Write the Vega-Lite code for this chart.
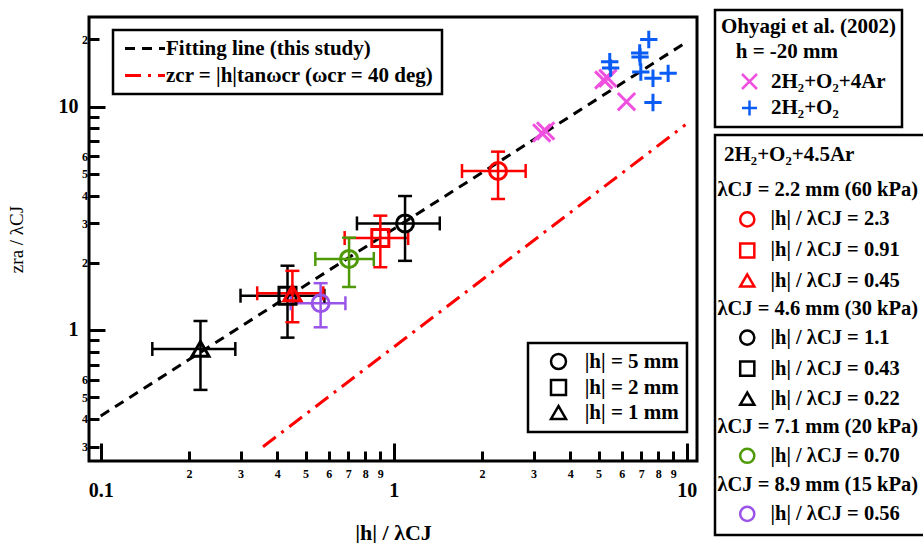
{
  "$schema": "https://vega.github.io/schema/vega-lite/v6.json",
  "width": 608,
  "height": 444,
  "autosize": {"type": "none"},
  "padding": {"left": 89, "top": 17, "right": 226, "bottom": 82},
  "background": "white",
  "config": {
    "font": "Liberation Serif",
    "view": {"stroke": "black", "strokeWidth": 3},
    "legend": {"strokeColor": "black", "strokeWidth": 2.5, "fillColor": "white", "labelFont": "Liberation Serif", "labelFontSize": 21, "labelFontWeight": "bold", "labelColor": "black", "titleFont": "Liberation Serif", "titleFontSize": 21, "titleFontWeight": "bold", "titleColor": "black", "labelLimit": 400, "titleLimit": 400},
    "axis": {"grid": false, "domain": false, "tickColor": "black", "tickWidth": 3, "labelFont": "Liberation Serif", "labelFontWeight": "bold", "labelColor": "black", "labelFlush": false, "labelOverlap": false, "labelBound": false, "titleFont": "Liberation Serif", "titleColor": "black"}
  },
  "datasets": {
    "lines": [
      {"l": "Fitting line (this study)", "x": 0.1, "y": 0.412},
      {"l": "Fitting line (this study)", "x": 10, "y": 19.5},
      {"l": "zcr = |h|tanωcr (ωcr = 40 deg)", "x": 0.358, "y": 0.3},
      {"l": "zcr = |h|tanωcr (ωcr = 40 deg)", "x": 9.9, "y": 8.3}
    ],
    "pts": [
      {"s": "|h| / λCJ = 1.1", "h": "|h| = 5 mm", "x": 1.093, "xlo": 0.749, "xhi": 1.436, "y": 3.0, "ylo": 2.04, "yhi": 3.98},
      {"s": "|h| / λCJ = 0.43", "h": "|h| = 2 mm", "x": 0.434, "xlo": 0.3, "xhi": 0.58, "y": 1.424, "ylo": 0.924, "yhi": 1.94},
      {"s": "|h| / λCJ = 0.22", "h": "|h| = 1 mm", "x": 0.219, "xlo": 0.15, "xhi": 0.288, "y": 0.822, "ylo": 0.539, "yhi": 1.097},
      {"s": "|h| / λCJ = 0.70", "h": "|h| = 5 mm", "x": 0.704, "xlo": 0.54, "xhi": 0.855, "y": 2.08, "ylo": 1.558, "yhi": 2.59},
      {"s": "|h| / λCJ = 0.56", "h": "|h| = 5 mm", "x": 0.563, "xlo": 0.445, "xhi": 0.684, "y": 1.317, "ylo": 1.028, "yhi": 1.62},
      {"s": "|h| / λCJ = 2.3", "h": "|h| = 5 mm", "x": 2.27, "xlo": 1.71, "xhi": 2.82, "y": 5.15, "ylo": 3.86, "yhi": 6.29},
      {"s": "|h| / λCJ = 0.91", "h": "|h| = 2 mm", "x": 0.9, "xlo": 0.68, "xhi": 1.12, "y": 2.58, "ylo": 1.91, "yhi": 3.25},
      {"s": "|h| / λCJ = 0.45", "h": "|h| = 1 mm", "x": 0.451, "xlo": 0.342, "xhi": 0.575, "y": 1.46, "ylo": 1.083, "yhi": 1.84}
    ],
    "ohy": [
      {"m": "2H₂+O₂+4Ar", "x": 3.2, "y": 7.63},
      {"m": "2H₂+O₂+4Ar", "x": 3.3, "y": 7.79},
      {"m": "2H₂+O₂+4Ar", "x": 5.21, "y": 13.17},
      {"m": "2H₂+O₂+4Ar", "x": 5.38, "y": 13.41},
      {"m": "2H₂+O₂+4Ar", "x": 6.23, "y": 10.53},
      {"m": "2H₂+O₂", "x": 5.46, "y": 15.9},
      {"m": "2H₂+O₂", "x": 5.5, "y": 14.9},
      {"m": "2H₂+O₂", "x": 7.42, "y": 20.0},
      {"m": "2H₂+O₂", "x": 6.91, "y": 17.4},
      {"m": "2H₂+O₂", "x": 6.93, "y": 16.7},
      {"m": "2H₂+O₂", "x": 6.97, "y": 14.3},
      {"m": "2H₂+O₂", "x": 7.67, "y": 13.41},
      {"m": "2H₂+O₂", "x": 8.64, "y": 14.11},
      {"m": "2H₂+O₂", "x": 7.67, "y": 10.44}
    ]
  },
  "layer": [
    {
      "data": {"name": "lines"},
      "mark": {"type": "line", "strokeWidth": 3},
      "encoding": {
        "x": {"field": "x", "type": "quantitative", "title": "|h| / λCJ", "scale": {"type": "log", "domain": [0.0912, 10.84], "nice": false},
          "axis": {
            "orient": "bottom", "values": [0.1, 1, 10],
            "labelExpr": "datum.value == 0.1 ? '0.1' : datum.value == 1 ? '1' : '10'",
            "offset": -18, "tickSize": 18, "labelFontSize": 20, "labelPadding": 19,
            "titleFontSize": 22, "titleFontWeight": "bold", "titlePadding": 22
          }},
        "y": {"field": "y", "type": "quantitative", "title": "zra / λCJ", "scale": {"type": "log", "domain": [0.2589, 25.22], "nice": false},
          "axis": {
            "orient": "left", "values": [1, 10],
            "labelExpr": "datum.value == 1 ? '1' : '10'",
            "offset": -16, "tickSize": 16, "labelFontSize": 20, "labelPadding": 11,
            "titleFontSize": 19, "titleFontWeight": "normal", "titlePadding": 32
          }},
        "color": {"field": "l", "type": "nominal", "scale": {"domain": ["Fitting line (this study)", "zcr = |h|tanωcr (ωcr = 40 deg)"], "range": ["#000000", "#ff0000"]},
          "legend": {"title": null, "orient": "none", "legendX": 24, "legendY": 13, "padding": 8, "symbolType": "M-4,0L4,0", "symbolSize": 100, "symbolStrokeWidth": 3, "symbolOffset": 13.5, "labelOffset": 10.5, "rowPadding": 5}},
        "strokeDash": {"field": "l", "type": "nominal", "scale": {"domain": ["Fitting line (this study)", "zcr = |h|tanωcr (ωcr = 40 deg)"], "range": [[10, 7], [16, 7, 3, 7]]},
          "legend": {"title": null, "orient": "none", "legendX": 24, "legendY": 13, "padding": 8, "symbolType": "M-4,0L4,0", "symbolSize": 100, "symbolStrokeWidth": 3, "symbolOffset": 13.5, "labelOffset": 10.5, "rowPadding": 5}}
      }
    },
    {
      "data": {"name": "pts"},
      "mark": {"type": "rule", "strokeWidth": 2.5},
      "encoding": {
        "x": {"field": "xlo", "type": "quantitative", "title": null, "scale": {"type": "log", "domain": [0.0912, 10.84], "nice": false}, "axis": null},
        "x2": {"field": "xhi"},
        "y": {"field": "y", "type": "quantitative", "title": null, "scale": {"type": "log", "domain": [0.2589, 25.22], "nice": false}, "axis": null},
        "stroke": {"field": "s", "type": "nominal", "legend": null,
          "scale": {"domain": ["λCJ = 2.2 mm (60 kPa)", "|h| / λCJ = 2.3", "|h| / λCJ = 0.91", "|h| / λCJ = 0.45", "λCJ = 4.6 mm (30 kPa)", "|h| / λCJ = 1.1", "|h| / λCJ = 0.43", "|h| / λCJ = 0.22", "λCJ = 7.1 mm (20 kPa)", "|h| / λCJ = 0.70", "λCJ = 8.9 mm (15 kPa)", "|h| / λCJ = 0.56"],
            "range": ["#000000", "#ff0000", "#ff0000", "#ff0000", "#000000", "#000000", "#000000", "#000000", "#000000", "#4e9a06", "#000000", "#9a55e8"]}}
      }
    },
    {
      "data": {"name": "pts"},
      "mark": {"type": "rule", "strokeWidth": 2.5},
      "encoding": {
        "x": {"field": "x", "type": "quantitative", "title": null, "scale": {"type": "log", "domain": [0.0912, 10.84], "nice": false}, "axis": null},
        "y": {"field": "ylo", "type": "quantitative", "title": null, "scale": {"type": "log", "domain": [0.2589, 25.22], "nice": false}, "axis": null},
        "y2": {"field": "yhi"},
        "stroke": {"field": "s", "type": "nominal", "legend": null}
      }
    },
    {
      "data": {"name": "pts"},
      "mark": {"type": "tick", "orient": "vertical", "size": 14, "thickness": 2.5, "opacity": 1},
      "encoding": {
        "x": {"field": "xlo", "type": "quantitative", "title": null, "scale": {"type": "log", "domain": [0.0912, 10.84], "nice": false}, "axis": null},
        "y": {"field": "y", "type": "quantitative", "title": null, "scale": {"type": "log", "domain": [0.2589, 25.22], "nice": false}, "axis": null},
        "fill": {"field": "s", "type": "nominal", "legend": null,
          "scale": {"domain": ["λCJ = 2.2 mm (60 kPa)", "|h| / λCJ = 2.3", "|h| / λCJ = 0.91", "|h| / λCJ = 0.45", "λCJ = 4.6 mm (30 kPa)", "|h| / λCJ = 1.1", "|h| / λCJ = 0.43", "|h| / λCJ = 0.22", "λCJ = 7.1 mm (20 kPa)", "|h| / λCJ = 0.70", "λCJ = 8.9 mm (15 kPa)", "|h| / λCJ = 0.56"],
            "range": ["#000000", "#ff0000", "#ff0000", "#ff0000", "#000000", "#000000", "#000000", "#000000", "#000000", "#4e9a06", "#000000", "#9a55e8"]}}
      }
    },
    {
      "data": {"name": "pts"},
      "mark": {"type": "tick", "orient": "vertical", "size": 14, "thickness": 2.5, "opacity": 1},
      "encoding": {
        "x": {"field": "xhi", "type": "quantitative", "title": null, "scale": {"type": "log", "domain": [0.0912, 10.84], "nice": false}, "axis": null},
        "y": {"field": "y", "type": "quantitative", "title": null, "scale": {"type": "log", "domain": [0.2589, 25.22], "nice": false}, "axis": null},
        "fill": {"field": "s", "type": "nominal", "legend": null}
      }
    },
    {
      "data": {"name": "pts"},
      "mark": {"type": "tick", "orient": "horizontal", "size": 14, "thickness": 2.5, "opacity": 1},
      "encoding": {
        "x": {"field": "x", "type": "quantitative", "title": null, "scale": {"type": "log", "domain": [0.0912, 10.84], "nice": false}, "axis": null},
        "y": {"field": "ylo", "type": "quantitative", "title": null, "scale": {"type": "log", "domain": [0.2589, 25.22], "nice": false}, "axis": null},
        "fill": {"field": "s", "type": "nominal", "legend": null}
      }
    },
    {
      "data": {"name": "pts"},
      "mark": {"type": "tick", "orient": "horizontal", "size": 14, "thickness": 2.5, "opacity": 1},
      "encoding": {
        "x": {"field": "x", "type": "quantitative", "title": null, "scale": {"type": "log", "domain": [0.0912, 10.84], "nice": false}, "axis": null},
        "y": {"field": "yhi", "type": "quantitative", "title": null, "scale": {"type": "log", "domain": [0.2589, 25.22], "nice": false}, "axis": null},
        "fill": {"field": "s", "type": "nominal", "legend": null}
      }
    },
    {
      "data": {"name": "pts"},
      "mark": {"type": "point", "filled": false, "size": 290, "strokeWidth": 3, "opacity": 1},
      "encoding": {
        "x": {"field": "x", "type": "quantitative", "title": null, "scale": {"type": "log", "domain": [0.0912, 10.84], "nice": false},
          "axis": {
            "orient": "bottom", "title": null,
            "values": [0.2, 0.3, 0.4, 0.5, 0.6, 0.7, 0.8, 0.9, 2, 3, 4, 5, 6, 7, 8, 9],
            "labelExpr": "datum.value < 1 ? format(datum.value * 10, '.0f') : format(datum.value, '.0f')",
            "offset": -10, "tickSize": 10, "labelFontSize": 12, "labelPadding": 7
          }},
        "y": {"field": "y", "type": "quantitative", "title": null, "scale": {"type": "log", "domain": [0.2589, 25.22], "nice": false},
          "axis": {
            "orient": "left", "title": null,
            "values": [0.3, 0.4, 0.5, 0.6, 0.7, 0.8, 0.9, 2, 3, 4, 5, 6, 7, 8, 9, 20],
            "labelExpr": "datum.value == 20 ? '2' : datum.value < 0.65 ? format(datum.value * 10, '.0f') : datum.value < 1 ? '' : datum.value < 6.5 ? format(datum.value, '.0f') : ''",
            "offset": -10, "tickSize": 10, "labelFontSize": 12, "labelPadding": 1.5
          }},
        "color": {"field": "s", "type": "nominal",
          "scale": {
            "domain": ["λCJ = 2.2 mm (60 kPa)", "|h| / λCJ = 2.3", "|h| / λCJ = 0.91", "|h| / λCJ = 0.45", "λCJ = 4.6 mm (30 kPa)", "|h| / λCJ = 1.1", "|h| / λCJ = 0.43", "|h| / λCJ = 0.22", "λCJ = 7.1 mm (20 kPa)", "|h| / λCJ = 0.70", "λCJ = 8.9 mm (15 kPa)", "|h| / λCJ = 0.56"],
            "range": ["transparent", "#ff0000", "#ff0000", "#ff0000", "transparent", "#000000", "#000000", "#000000", "transparent", "#4e9a06", "transparent", "#9a55e8"]
          },
          "legend": {
            "title": "2H₂+O₂+4.5Ar", "orient": "none", "legendX": 626, "legendY": 118, "padding": 9,
            "symbolSize": 200, "symbolStrokeWidth": 2.5, "symbolOffset": 13, "labelOffset": -40, "rowPadding": 6.05, "titlePadding": 15.1, "labelFontSize": 20.5,
            "labelExpr": "indexof(datum.label, 'mm') >= 0 ? datum.label : '\u200b\u2003\u2003\u2002\u200a' + datum.label"
          }
        },
        "shape": {"field": "s", "type": "nominal",
          "scale": {
            "domain": ["λCJ = 2.2 mm (60 kPa)", "|h| / λCJ = 2.3", "|h| / λCJ = 0.91", "|h| / λCJ = 0.45", "λCJ = 4.6 mm (30 kPa)", "|h| / λCJ = 1.1", "|h| / λCJ = 0.43", "|h| / λCJ = 0.22", "λCJ = 7.1 mm (20 kPa)", "|h| / λCJ = 0.70", "λCJ = 8.9 mm (15 kPa)", "|h| / λCJ = 0.56"],
            "range": ["M0,0", "circle", "square", "triangle-up", "M0,0", "circle", "square", "triangle-up", "M0,0", "circle", "M0,0", "circle"]
          },
          "legend": {
            "title": "2H₂+O₂+4.5Ar", "orient": "none", "legendX": 626, "legendY": 118, "padding": 9,
            "symbolSize": 200, "symbolStrokeWidth": 2.5, "symbolOffset": 13, "labelOffset": -40, "rowPadding": 6.05, "titlePadding": 15.1, "labelFontSize": 20.5,
            "labelExpr": "indexof(datum.label, 'mm') >= 0 ? datum.label : '\u200b\u2003\u2003\u2002\u200a' + datum.label"
          }
        }
      }
    },
    {
      "data": {"name": "pts"},
      "mark": {"type": "point", "filled": false, "size": 225, "strokeWidth": 2.5, "opacity": 0},
      "encoding": {
        "x": {"field": "x", "type": "quantitative", "title": null, "scale": {"type": "log", "domain": [0.0912, 10.84], "nice": false}, "axis": null},
        "y": {"field": "y", "type": "quantitative", "title": null, "scale": {"type": "log", "domain": [0.2589, 25.22], "nice": false}, "axis": null},
        "shape": {"field": "h", "type": "nominal",
          "scale": {"domain": ["|h| = 5 mm", "|h| = 2 mm", "|h| = 1 mm"], "range": ["circle", "square", "triangle-up"]},
          "legend": {"title": null, "orient": "none", "legendX": 439, "legendY": 326, "padding": 8, "symbolSize": 225, "symbolStrokeWidth": 2.5, "symbolStrokeColor": "black", "symbolFillColor": "transparent", "symbolOpacity": 1, "symbolOffset": 12, "labelOffset": 15.7, "rowPadding": 1}
        }
      }
    },
    {
      "data": {"name": "ohy"},
      "mark": {"type": "point", "filled": false, "size": 300, "strokeWidth": 3, "opacity": 1},
      "encoding": {
        "x": {"field": "x", "type": "quantitative", "title": null, "scale": {"type": "log", "domain": [0.0912, 10.84], "nice": false}, "axis": null},
        "y": {"field": "y", "type": "quantitative", "title": null, "scale": {"type": "log", "domain": [0.2589, 25.22], "nice": false}, "axis": null},
        "color": {"field": "m", "type": "nominal", "scale": {"domain": ["2H₂+O₂+4Ar", "2H₂+O₂"], "range": ["#f050e0", "#0a5cf5"]},
          "legend": {"title": ["Ohyagi et al. (2002)", "\u200b\u2002\u2009h = -20 mm"], "orient": "none", "legendX": 626, "legendY": -7, "padding": 6, "symbolSize": 225, "symbolStrokeWidth": 2.5, "symbolOffset": 18, "labelOffset": 11, "rowPadding": 1.5, "titleLineHeight": 25, "titlePadding": 9}},
        "shape": {"field": "m", "type": "nominal", "scale": {"domain": ["2H₂+O₂+4Ar", "2H₂+O₂"], "range": ["M-1,-1L1,1M-1,1L1,-1", "M-1,0L1,0M0,-1L0,1"]},
          "legend": {"title": ["Ohyagi et al. (2002)", "\u200b\u2002\u2009h = -20 mm"], "orient": "none", "legendX": 626, "legendY": -7, "padding": 6, "symbolSize": 225, "symbolStrokeWidth": 2.5, "symbolOffset": 18, "labelOffset": 11, "rowPadding": 1.5, "titleLineHeight": 25, "titlePadding": 9}}
      }
    }
  ],
  "resolve": {"scale": {"color": "independent", "shape": "independent", "strokeDash": "independent"}, "axis": {"x": "independent", "y": "independent"}}
}
